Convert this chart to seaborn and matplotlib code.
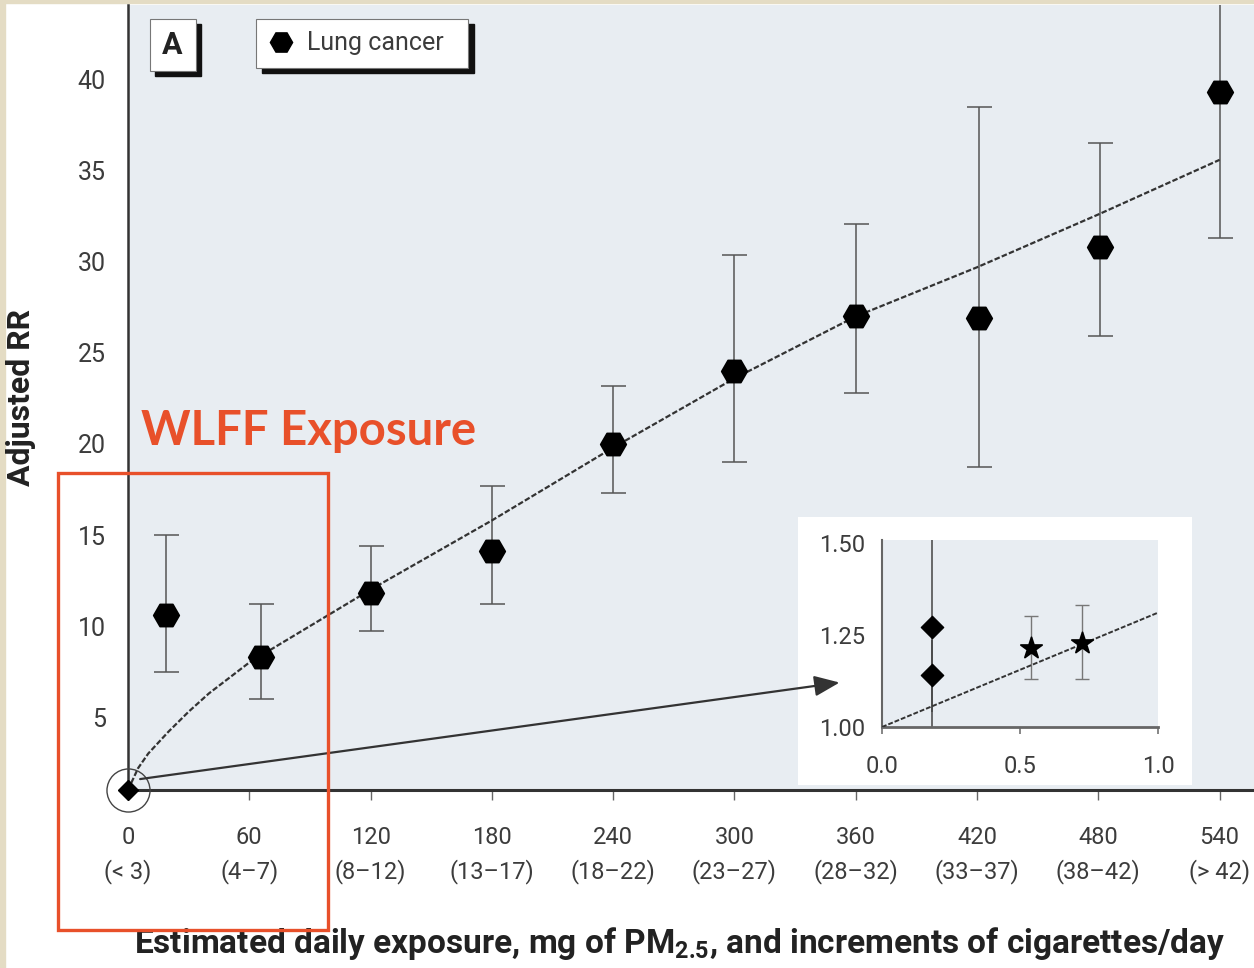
import numpy as np
import matplotlib
matplotlib.use("Agg")
import matplotlib.pyplot as plt
import seaborn as sns
from matplotlib.patches import Rectangle, ConnectionPatch
from matplotlib.lines import Line2D

# Data
exposure = [19, 66, 120, 180, 240, 300, 360, 421, 481, 540]
rr = [10.6, 8.3, 11.8, 14.1, 20.0, 24.0, 27.0, 26.9, 30.8, 39.3]
rr_lo = [7.5, 6.0, 9.75, 11.2, 17.3, 19.0, 22.8, 18.75, 25.9, 31.3]
rr_hi = [15.0, 11.2, 14.4, 17.7, 23.2, 30.35, 32.1, 38.5, 36.5, 46.0]
origin_x, origin_y = [0], [1.0]

curve_x = [0, 5, 10, 20, 30, 40, 60, 90, 120, 180, 240, 300, 360, 420, 480, 540]
curve_y = [1.0, 2.2, 3.0, 4.2, 5.3, 6.3, 8.0, 10.0, 12.0, 15.8, 19.8, 23.6, 27.0, 29.7, 32.6, 35.6]

xticks = [0, 60, 120, 180, 240, 300, 360, 420, 480, 540]
xtick_labels = ["0\n(< 3)", "60\n(4–7)", "120\n(8–12)", "180\n(13–17)", "240\n(18–22)",
                "300\n(23–27)", "360\n(28–32)", "420\n(33–37)", "480\n(38–42)", "540\n(> 42)"]
yticks = [5, 10, 15, 20, 25, 30, 35, 40]

# inset (low exposure)
dia_x = [0.18, 0.18]
dia_y = [1.27, 1.14]
dia_lo = [1.0, 1.04]
dia_hi = [1.6, 1.235]
star_x = [0.54, 0.725]
star_y = [1.215, 1.228]
star_lo = [1.13, 1.13]
star_hi = [1.30, 1.33]
inset_line_x = [0.0, 1.0]
inset_line_y = [1.0, 1.31]

sns.set_theme(style="white")
plt.rcParams["font.family"] = ["Roboto", "DejaVu Sans"]
plt.rcParams["mathtext.fontset"] = "custom"
plt.rcParams["mathtext.rm"] = "Roboto:bold"
plt.rcParams["mathtext.bf"] = "Roboto:bold"

W, H = 1254, 968
TXT = "#3c3c3c"
BG = "#e8edf2"
RED = "#e8502a"


def fx(x):
    return x / W


def fy(y):
    return 1 - y / H


fig = plt.figure(figsize=(W / 100, H / 100), dpi=100)
fig.patch.set_facecolor("white")
# beige edge strips
fig.add_artist(Rectangle((0, 0), fx(5), 1, transform=fig.transFigure, color="#e4dcc4", zorder=-1))
fig.add_artist(Rectangle((0, fy(3)), 1, 3 / H, transform=fig.transFigure, color="#e4dcc4", zorder=-1))

ax = fig.add_axes([fx(128), fy(790), fx(W - 128), fy(5) - fy(790)])
ax.set_facecolor(BG)

ax.errorbar(exposure, rr, yerr=[np.array(rr) - np.array(rr_lo), np.array(rr_hi) - np.array(rr)],
            fmt="none", ecolor="#555555", elinewidth=1.1, capsize=9, capthick=1.1, zorder=2)
sns.lineplot(x=curve_x, y=curve_y, ax=ax, color="#333333", lw=1.6, linestyle=(0, (2.5, 1)), zorder=3)
sns.scatterplot(x=exposure, y=rr, ax=ax, marker="H", s=330, color="black", edgecolor="black", zorder=4)
ax.plot(origin_x, origin_y, marker="D", ms=10, color="black", ls="none", zorder=5, clip_on=False)
ax.plot(origin_x, origin_y, marker="o", ms=31, mfc="none", mec="#444444", mew=1.0, ls="none",
        zorder=5, clip_on=False)

ax.set_xlim(0, 557)
ax.set_ylim(1.0, 44.1)
ax.set_xticks(xticks)
ax.set_xticklabels(xtick_labels, fontsize=17, color=TXT, linespacing=1.5)
ax.set_yticks(yticks)
ax.set_yticklabels([str(v) for v in yticks], fontsize=18, color=TXT)
ax.tick_params(axis="x", direction="out", length=7, width=1, color="#666666", pad=19, bottom=True)
ax.tick_params(axis="y", length=0, pad=16, left=False)
for s in ["top", "right"]:
    ax.spines[s].set_visible(False)
ax.spines["left"].set_color("#333333")
ax.spines["left"].set_linewidth(1.8)
ax.spines["bottom"].set_color("#333333")
ax.spines["bottom"].set_linewidth(2.2)
ax.set_xlabel("")
ax.set_ylabel("")

fig.text(fx(21), fy(397), "Adjusted RR", rotation=90, fontsize=23, fontweight="bold",
         color="#222222", ha="center", va="center")
fig.text(fx(680), fy(944), r"Estimated daily exposure, mg of PM$_{2.5}$, and increments of cigarettes/day",
         fontsize=24, fontweight="bold", color="#222222", ha="center", va="center")

# "A" panel box with shadow
fig.add_artist(Rectangle((fx(155), fy(76)), fx(46), fy(24) - fy(76), transform=fig.transFigure,
                         color="#111111", zorder=5))
fig.add_artist(Rectangle((fx(150), fy(71)), fx(46), fy(19) - fy(71), transform=fig.transFigure,
                         facecolor="white", edgecolor="#777777", lw=0.8, zorder=6))
fig.text(fx(172), fy(45), "A", fontsize=22, fontweight="bold", color="#222222",
         ha="center", va="center", zorder=7)

# legend box with shadow
fig.add_artist(Rectangle((fx(262), fy(73)), fx(212), fy(24) - fy(73), transform=fig.transFigure,
                         color="#111111", zorder=5))
fig.add_artist(Rectangle((fx(256), fy(68)), fx(212), fy(19) - fy(68), transform=fig.transFigure,
                         facecolor="white", edgecolor="#777777", lw=0.8, zorder=6))
fig.add_artist(Line2D([fx(281)], [fy(42)], marker="H", ms=16, color="black", ls="none",
                      transform=fig.transFigure, zorder=7))
fig.text(fx(307), fy(43), "Lung cancer", fontsize=18, color=TXT, ha="left", va="center", zorder=7)

# inset panel
fig.add_artist(Rectangle((fx(798), fy(785)), fx(1192 - 798), fy(517) - fy(785), transform=fig.transFigure,
                         facecolor="white", edgecolor="none", zorder=1))
axi = fig.add_axes([fx(882), fy(727), fx(1158 - 882), fy(540) - fy(727)], zorder=2)
axi.set_facecolor(BG)
axi.errorbar(dia_x, dia_y, yerr=[np.array(dia_y) - np.array(dia_lo), np.array(dia_hi) - np.array(dia_y)],
             fmt="none", ecolor="#444444", elinewidth=1.1, capsize=0, zorder=2)
axi.errorbar(star_x, star_y, yerr=[np.array(star_y) - np.array(star_lo), np.array(star_hi) - np.array(star_y)],
             fmt="none", ecolor="#777777", elinewidth=1.0, capsize=5, capthick=1.0, zorder=2)
sns.lineplot(x=inset_line_x, y=inset_line_y, ax=axi, color="#333333", lw=1.4,
             linestyle=(0, (2.5, 1)), zorder=3)
sns.scatterplot(x=dia_x, y=dia_y, ax=axi, marker="D", s=130, color="black", edgecolor="black", zorder=4)
sns.scatterplot(x=star_x, y=star_y, ax=axi, marker="*", s=260, color="black", edgecolor="black", zorder=4)
axi.set_xlim(0, 1.0)
axi.set_ylim(1.0, 1.507)
axi.set_xticks([0.0, 0.5, 1.0])
axi.set_xticklabels(["0.0", "0.5", "1.0"], fontsize=17, color=TXT)
axi.set_yticks([1.0, 1.25, 1.5])
axi.set_yticklabels(["1.00", "1.25", "1.50"], fontsize=17, color=TXT)
axi.tick_params(axis="x", length=5, color="#777777", pad=15, bottom=True)
axi.tick_params(axis="y", length=0, pad=12, left=False)
for s in ["top", "right"]:
    axi.spines[s].set_visible(False)
axi.spines["left"].set_color("#666666")
axi.spines["left"].set_linewidth(1.5)
axi.spines["bottom"].set_color("#666666")
axi.spines["bottom"].set_linewidth(2.0)

# arrow from origin to inset
arrow = ConnectionPatch(xyA=(6, 1.6), coordsA=ax.transData, xyB=(352, 6.9), coordsB=ax.transData,
                        arrowstyle="-|>,head_length=1.1,head_width=0.45", color="#333333", lw=1.6,
                        mutation_scale=14, zorder=3)
fig.add_artist(arrow)

# annotation highlight
fig.add_artist(Rectangle((fx(58), fy(930)), fx(328 - 58), fy(473) - fy(930), transform=fig.transFigure,
                         facecolor="none", edgecolor=RED, lw=2.4, zorder=8))
fig.text(fx(141), fy(445), "WLFF Exposure", fontsize=34, fontweight="bold", color=RED,
         family=["Lato", "DejaVu Sans"], ha="left", va="baseline", zorder=8)

fig.savefig("out.png", dpi=100)
